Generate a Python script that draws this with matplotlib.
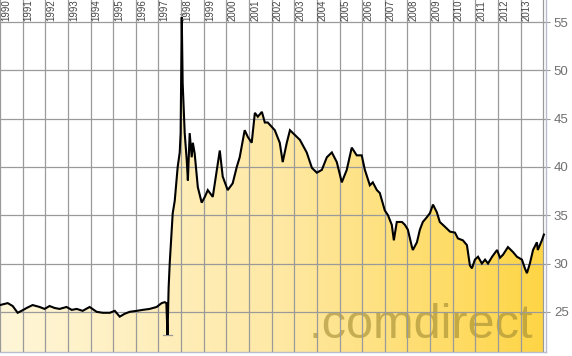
import numpy as np
import matplotlib
matplotlib.use("Agg")
import matplotlib.pyplot as plt
from matplotlib.colors import LinearSegmentedColormap

# ---- data ----
years = [1990.00, 1990.34, 1990.56, 1990.78, 1990.95, 1991.18, 1991.44, 1991.75, 1991.97,
         1992.19, 1992.41, 1992.63, 1992.94, 1993.17, 1993.39, 1993.65, 1993.96, 1994.27,
         1994.54, 1994.85, 1995.07, 1995.29, 1995.51, 1995.73, 1996.04, 1996.30, 1996.61,
         1996.92, 1997.14, 1997.28, 1997.35, 1997.40, 1997.45, 1997.50, 1997.63, 1997.72,
         1997.81, 1997.85, 1997.94, 1997.98, 1998.03, 1998.07, 1998.16, 1998.25, 1998.30,
         1998.38, 1998.47, 1998.52, 1998.60, 1998.74, 1998.91, 1999.05, 1999.18, 1999.40,
         1999.71, 1999.84, 2000.06, 2000.28, 2000.46, 2000.59, 2000.81, 2000.95, 2001.12,
         2001.26, 2001.39, 2001.57, 2001.70, 2001.83, 2002.14, 2002.36, 2002.49, 2002.67,
         2002.81, 2003.03, 2003.25, 2003.55, 2003.78, 2004.00, 2004.22, 2004.44, 2004.66,
         2004.88, 2005.10, 2005.32, 2005.54, 2005.76, 2005.98, 2006.12, 2006.34, 2006.47,
         2006.65, 2006.78, 2007.00, 2007.14, 2007.31, 2007.40, 2007.53, 2007.76, 2007.89,
         2008.02, 2008.20, 2008.24, 2008.42, 2008.55, 2008.68, 2008.86, 2008.99, 2009.13,
         2009.30, 2009.43, 2009.66, 2009.88, 2010.10, 2010.23, 2010.45, 2010.63, 2010.76,
         2010.85, 2010.98, 2011.12, 2011.29, 2011.43, 2011.56, 2011.74, 2011.96, 2012.09,
         2012.22, 2012.44, 2012.66, 2012.84, 2013.06, 2013.19, 2013.28, 2013.41, 2013.55,
         2013.72, 2013.76, 2013.94, 2014.03]
prices = [25.7, 25.9, 25.6, 24.9, 25.1, 25.4, 25.7, 25.5, 25.3,
          25.6, 25.4, 25.3, 25.5, 25.2, 25.3, 25.1, 25.5, 25.0,
          24.9, 24.9, 25.1, 24.5, 24.8, 25.0, 25.1, 25.2, 25.3,
          25.5, 25.9, 26.0, 25.9, 22.6, 27.5, 30.1, 35.2, 36.5,
          39.0, 40.0, 41.5, 43.5, 55.5, 48.7, 43.5, 40.7, 38.6,
          43.5, 41.0, 42.5, 41.4, 37.9, 36.3, 36.9, 37.6, 36.9,
          41.7, 39.0, 37.6, 38.3, 40.0, 41.0, 43.8, 43.1, 42.5,
          45.6, 45.2, 45.7, 44.6, 44.6, 43.8, 42.5, 40.5, 42.5,
          43.8, 43.3, 42.8, 41.5, 39.9, 39.4, 39.7, 41.0, 41.5,
          40.5, 38.4, 39.7, 42.0, 41.2, 41.2, 39.7, 38.1, 38.4,
          37.6, 37.3, 35.5, 35.0, 34.0, 32.4, 34.3, 34.3, 34.0,
          33.5, 31.7, 31.4, 32.2, 33.5, 34.3, 34.8, 35.2, 36.1,
          35.3, 34.3, 33.8, 33.3, 33.2, 32.6, 32.4, 31.9, 29.8,
          29.5, 30.4, 30.7, 30.0, 30.4, 30.0, 30.7, 31.4, 30.6,
          30.9, 31.7, 31.2, 30.7, 30.4, 29.5, 29.0, 30.0, 31.4,
          32.2, 31.4, 32.4, 33.0]
year_labels = [str(y) for y in range(1990, 2014)]
grid_years = list(range(1990, 2015))
price_ticks = [25, 30, 35, 40, 45, 50, 55]
hi_value, hi_year = 55.8, 1998.03
lo_value, lo_year = 22.6, 1997.40

# ---- figure ----
W, H = 572, 356
fig = plt.figure(figsize=(W / 100, H / 100), dpi=100)
ax = fig.add_axes([0, 4 / H, 545.5 / W, 352 / H])
x0, x1 = 1990.0, 2014.1
y0, y1 = 20.84, 57.28
ax.set_xlim(x0, x1)
ax.set_ylim(y0, y1)

# gradient fill under the line
cmap = LinearSegmentedColormap.from_list("g", ["#FFF6D8", "#FEE9A6", "#FFD545"])
grad = np.linspace(0, 1, 256).reshape(1, -1)
poly = ax.fill_between(years, prices, y0, facecolor="none", edgecolor="none")
im = ax.imshow(grad, extent=(x0, x1, y0, y1), aspect="auto", cmap=cmap,
               origin="lower", zorder=1)
im.set_clip_path(poly.get_paths()[0], transform=ax.transData)

# watermark
ax.text(2013.55, 21.3, ".comdirect", ha="right", va="bottom", fontsize=35,
        color="#a08a30", alpha=0.6, zorder=2,
        family=["Liberation Sans Narrow", "Liberation Sans", "DejaVu Sans"])

# gridlines
for gy in grid_years:
    ax.axvline(gy, color="#9a9a9a", lw=0.9, zorder=3)
for pt in price_ticks:
    ax.axhline(pt, color="#9a9a9a", lw=0.9, zorder=3)

# price line
ax.plot(years, prices, color="black", lw=1.5, zorder=5, solid_joinstyle="miter")

# high / low markers
ax.plot([hi_year - 0.08, hi_year + 0.12], [hi_value, hi_value], color="#999999", lw=0.9, zorder=4)
ax.plot([lo_year - 0.2, lo_year + 0.2], [lo_value, lo_value], color="#999999", lw=0.9, zorder=4)

# year labels at the top
for lab, gy in zip(year_labels, grid_years):
    ax.text(gy + 0.05, 55.08, lab, rotation=90, ha="left", va="bottom",
            fontsize=6.9, color="#444444", zorder=6,
            family=["Liberation Sans", "DejaVu Sans"])

# axes styling
ax.set_xticks([])
ax.yaxis.tick_right()
ax.set_yticks(price_ticks)
ax.set_yticklabels([str(p) for p in price_ticks], family="Liberation Sans")
ax.tick_params(axis="y", length=3, color="#9a9a9a", labelsize=9.5,
               labelcolor="#707070", pad=3)
for side in ["top", "left"]:
    ax.spines[side].set_visible(False)
for side in ["bottom", "right"]:
    ax.spines[side].set_color("#b8bccc")
    ax.spines[side].set_linewidth(1.0)

fig.savefig("out.png", dpi=100)
